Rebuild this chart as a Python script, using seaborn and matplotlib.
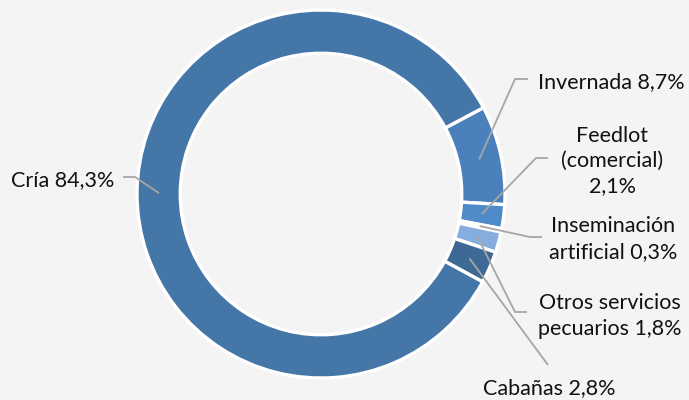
import numpy as np
import matplotlib
matplotlib.use("Agg")
import matplotlib.pyplot as plt
import seaborn as sns

# Datos (orden en sentido horario desde arriba a la derecha)
categorias = ["Invernada", "Feedlot\n(comercial)", "Inseminación\nartificial",
              "Otros servicios\npecuarios", "Cabañas", "Cría"]
porcentajes = [8.7, 2.1, 0.3, 1.8, 2.8, 84.3]
etiquetas = ["Invernada 8,7%", "Feedlot\n(comercial)\n2,1%", "Inseminación\nartificial 0,3%",
             "Otros servicios\npecuarios 1,8%", "Cabañas 2,8%", "Cría 84,3%"]
colores = ["#4A80BB", "#4F8BC9", "#5B9BD5", "#85AEDF", "#3D6994", "#4576A8"]

sns.set_theme(style="white")
plt.rcParams["font.family"] = ["Lato", "DejaVu Sans"]

W, H = 689, 400
CX, CY, R = 321, 194, 184


def px(x, y):
    # pixel de la imagen -> coordenadas de datos
    return (x - CX) / R, (CY - y) / R


fig = plt.figure(figsize=(W / 100, H / 100), dpi=100, facecolor="#F4F4F4")
ax = fig.add_axes([0, 0, 1, 1])
ax.set_facecolor("#F4F4F4")

wedges, _ = ax.pie(porcentajes, colors=colores, startangle=28, counterclock=False,
                   radius=1.0, wedgeprops=dict(width=0.235, edgecolor="white", linewidth=2.4))

# posición de textos y codos de las líneas guía (en píxeles)
texto_pos = [(611, 82), (612, 161), (613, 239), (610, 316), (549, 388), (114, 180)]
codos = [[(515, 79), (528, 79)],
         [(536, 158), (548, 158)],
         [(530, 237), (542, 237)],
         [(515, 312), (527, 312)],
         [(548, 365)],
         [(135, 177), (123, 177)]]
alineacion = ["center", "center", "center", "center", "center", "right"]

for w, lab, tp, cd, ha in zip(wedges, etiquetas, texto_pos, codos, alineacion):
    ang = np.deg2rad((w.theta1 + w.theta2) / 2)
    ax0 = 0.88 * np.cos(ang)
    ay0 = 0.88 * np.sin(ang)
    pts = [(ax0, ay0)] + [px(*p) for p in cd]
    xs, ys = zip(*pts)
    ax.plot(xs, ys, color="#A6A6A6", lw=1.3, solid_capstyle="butt")
    tx, ty = px(*tp)
    ax.text(tx, ty, lab, ha=ha, va="center", fontsize=15.5, color="#111111",
            linespacing=1.33, multialignment="center")

ax.set_xlim(-CX / R, (W - CX) / R)
ax.set_ylim((CY - H) / R, CY / R)
ax.set_aspect("equal")
ax.axis("off")

fig.savefig("out.png", dpi=100, facecolor=fig.get_facecolor())
